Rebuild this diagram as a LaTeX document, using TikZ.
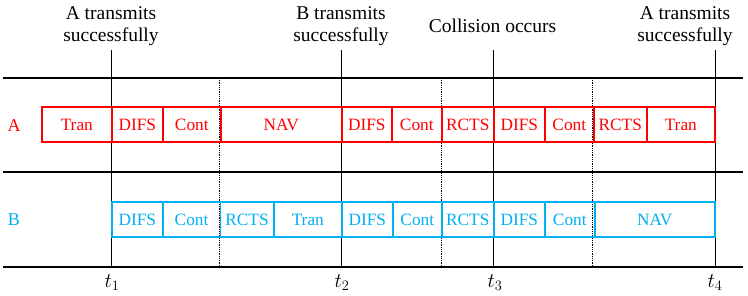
\documentclass[tikz,border=0pt]{standalone}
\usepackage{fontspec}
\setmainfont{Liberation Serif}
\usetikzlibrary{positioning}
\definecolor{sendA}{HTML}{FF0000}
\definecolor{sendB}{HTML}{00B0F0}
\tikzset{
  slot/.style={draw,line width=1.6pt,minimum height=35pt,inner sep=0pt,anchor=west,font=\fontsize{17.3}{17.3}\selectfont},
  slotA/.style={slot,draw=sendA,text=sendA},
  slotB/.style={slot,draw=sendB,text=sendB},
  rowname/.style={font=\fontsize{18}{18}\selectfont},
  axis/.style={line width=2.2pt},
  event/.style={line width=0.9pt},
  gap/.style={densely dotted,line width=0.8pt},
  note/.style={font=\fontsize{19.5}{22}\selectfont,align=center},
  tick/.style={font=\fontsize{20}{20}\selectfont}
}
\begin{document}
\begin{tikzpicture}[x=1pt,y=-1pt]
\useasboundingbox (0,0) rectangle (748,296);

% time axes
\draw[axis] (3,78) -- (743,78);
\draw[axis] (3,172) -- (743,172);
\draw[axis] (3,267) -- (743,267);

% event instants and contention boundaries
\foreach \x in {111,341,493,715} \draw[event] (\x,50) -- (\x,267);
\foreach \x in {219.5,441,592.5} \draw[gap] (\x,78) -- (\x,267);

% station A
\node[rowname,text=sendA] (labA) at (14,126) {A};
\foreach \a/\b/\txt [count=\i] in {41/111/Tran,111/162/DIFS,162/220/Cont,220/341/NAV,341/391/DIFS,391/441/Cont,441/493/RCTS,493/544/DIFS,544/593/Cont,593/646/RCTS,646/714/Tran}{
  \pgfmathsetmacro\w{\b-\a}
  \node[slotA,minimum width=\w pt] (a\i) at (\a,124.8) {\txt};
}

% station B
\node[rowname,text=sendB] (labB) at (14,220) {B};
\foreach \a/\b/\txt [count=\i] in {111/162/DIFS,162/219.5/Cont,219.5/273/RCTS,273/341/Tran,341/392/DIFS,392/441/Cont,441/493/RCTS,493/544/DIFS,544/594/Cont,594/714/NAV}{
  \pgfmathsetmacro\w{\b-\a}
  \node[slotB,minimum width=\w pt] (b\i) at (\a,219.5) {\txt};
}

% events
\node[note] (evA) at (111,26) {A transmits\\successfully};
\node[note] (evB) at (341,26) {B transmits\\successfully};
\node[note] (evC) at (492.5,26) {Collision occurs};
\node[note] (evD) at (685,26) {A transmits\\successfully};

% instants
\node[tick] (t1) at (112,283) {$t_1$};
\node[tick] (t2) at (342,283) {$t_2$};
\node[tick] (t3) at (495,283) {$t_3$};
\node[tick] (t4) at (715,283) {$t_4$};
\end{tikzpicture}
\end{document}
